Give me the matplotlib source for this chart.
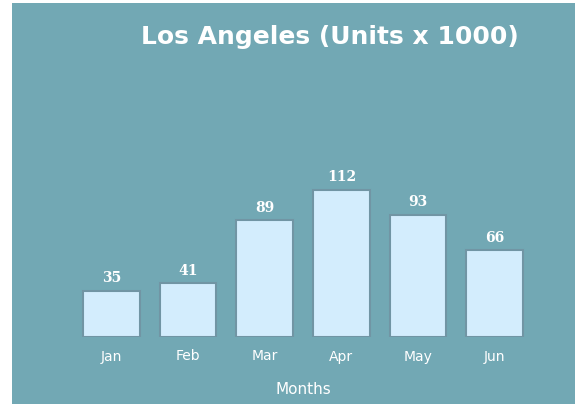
import matplotlib.pyplot as plt

months = ['Jan', 'Feb', 'Mar', 'Apr', 'May', 'Jun']
units = [35, 41, 89, 112, 93, 66]

bg = '#72a8b4'

fig = plt.figure(figsize=(5.75, 4.04), dpi=100)
fig.patch.set_facecolor('white')
# teal panel, white strip on the left and top
panel = plt.Rectangle((12 / 575, 0), 1, 1 - 3 / 404, transform=fig.transFigure,
                      facecolor=bg, edgecolor='none', zorder=-10)
fig.add_artist(panel)

ax = fig.add_axes([73 / 575, 67 / 404, 460 / 575, 277 / 404])
ax.set_facecolor('none')
x = range(len(months))
bars = ax.bar(x, units, width=0.74, color='#d3edfd', edgecolor='#7195a4', linewidth=1.5)
ax.set_xlim(-0.5, len(months) - 0.5)
ax.set_ylim(0, 211)

for b, v in zip(bars, units):
    ax.annotate(str(v), (b.get_x() + b.get_width() / 2, v), xytext=(0, 4),
                textcoords='offset points', ha='center', va='bottom',
                color='white', fontsize=10, fontweight='bold', family='DejaVu Serif')

ax.set_xticks(list(x))
ax.set_xticklabels(months, color='white', fontsize=10)
ax.tick_params(axis='x', length=0, pad=9)
ax.set_yticks([])
for s in ax.spines.values():
    s.set_visible(False)

ax.set_xlabel('Months', color='white', fontsize=11, labelpad=13)
fig.text(330 / 575, 1 - 37 / 404, 'Los Angeles (Units x 1000)', ha='center', va='center',
         color='white', fontsize=18, fontweight='bold')

fig.savefig('out.png', dpi=100, facecolor=fig.get_facecolor())
